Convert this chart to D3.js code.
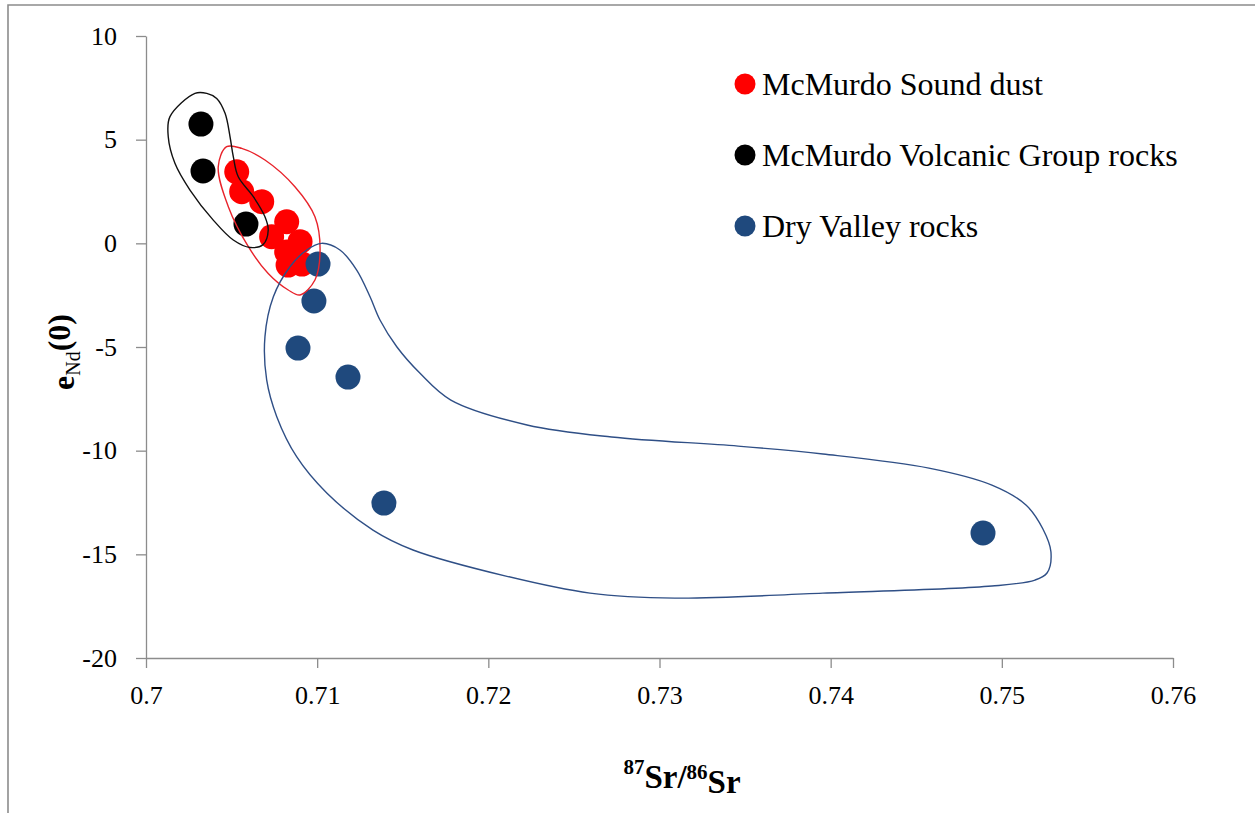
<!DOCTYPE html>
<html>
  <head>
    <meta charset="utf-8" />
    <title>Sr-Nd isotopes</title>
    <style>
      body {
        margin: 0;
        background: #fff;
      }
      svg text {
        font-family: 'Liberation Serif', serif;
        fill: #000;
      }
      .axis path,
      .axis line {
        stroke: #8c8c8c;
        stroke-width: 1.3px;
      }
      .outline {
        fill: none;
        stroke-width: 1.4px;
      }
    </style>
    <script src="https://d3js.org/d3.v7.min.js"></script>
  </head>
  <body>
    <svg width="1255" height="813"></svg>
    <script>
      // tick values
      var xTicks = [0.7, 0.71, 0.72, 0.73, 0.74, 0.75, 0.76]
      var yTicks = [-20, -15, -10, -5, 0, 5, 10]

      // McMurdo Sound dust
      var dustSr = [0.7053, 0.70559, 0.70676, 0.70822, 0.70734, 0.709, 0.70822, 0.7083, 0.70911]
      var dustNd = [3.45, 2.49, 2.01, 1.04, 0.32, 0.08, -0.42, -1.05, -1.0]

      // McMurdo Volcanic Group rocks
      var volcSr = [0.70321, 0.70333, 0.70584]
      var volcNd = [5.75, 3.49, 0.93]

      // Dry Valley rocks
      var dryvSr = [0.71005, 0.70981, 0.70888, 0.7118, 0.7139, 0.7489]
      var dryvNd = [-1.0, -2.78, -5.05, -6.45, -12.53, -13.97]

      // hand drawn outlines round each group, [Sr, Nd]
      var dustOutline = [
        [0.70471, 4.66], [0.70422, 3.69], [0.70481, 1.77], [0.70598, -0.16],
        [0.70714, -1.45], [0.70831, -2.25], [0.709, -2.49], [0.70987, -1.77],
        [0.71017, -0.32], [0.70987, 1.28], [0.7087, 2.73], [0.70695, 4.02],
        [0.70559, 4.58],
      ]
      var volcOutline = [
        [0.70286, 7.23], [0.7014, 6.11], [0.7013, 5.14], [0.70169, 3.86],
        [0.70257, 2.57], [0.70393, 1.12], [0.7051, 0.16], [0.70608, -0.2],
        [0.70685, -0.05], [0.70714, 0.64], [0.70695, 1.28], [0.70627, 2.25],
        [0.70539, 3.21], [0.7051, 4.18], [0.70491, 5.14], [0.70462, 6.27],
        [0.70413, 6.99], [0.70355, 7.23],
      ]
      var dryvOutline = [
        [0.71026, 0.0], [0.71133, -0.32], [0.71231, -1.29], [0.71309, -2.58],
        [0.71367, -3.7], [0.71465, -4.99], [0.71601, -6.27], [0.71781, -7.56],
        [0.72226, -8.76], [0.7272, -9.34], [0.73459, -9.78], [0.73955, -10.16],
        [0.74574, -10.84], [0.74942, -11.66], [0.75141, -12.62], [0.7524, -13.78],
        [0.75287, -14.89], [0.75264, -15.9], [0.75194, -16.24], [0.74942, -16.53],
        [0.73955, -16.87], [0.7309, -17.11], [0.72594, -16.87], [0.72103, -16.05],
        [0.7156, -14.79], [0.71326, -13.83], [0.71056, -12.04], [0.7088, -10.29],
        [0.70764, -8.36], [0.70705, -6.59], [0.70695, -4.5], [0.70744, -2.58],
        [0.70841, -1.13], [0.70939, -0.32],
      ]

      var series = [
        { name: 'McMurdo Sound dust', color: '#ff0000', line: '#e8232b', sr: dustSr, nd: dustNd, outline: dustOutline },
        { name: 'McMurdo Volcanic Group rocks', color: '#000000', line: '#111111', sr: volcSr, nd: volcNd, outline: volcOutline },
        { name: 'Dry Valley rocks', color: '#1f497d', line: '#2f4f86', sr: dryvSr, nd: dryvNd, outline: dryvOutline },
      ]

      var svg = d3.select('svg')

      // outer frame (only left and top edges are in view)
      svg.append('path')
        .attr('d', 'M8,813V5H1255')
        .attr('fill', 'none')
        .attr('stroke', '#8c8c8c')
        .attr('stroke-width', 1.6)

      var x = d3.scaleLinear().domain([0.7, 0.76]).range([146, 1173])
      var y = d3.scaleLinear().domain([-20, 10]).range([658, 36])

      // axes
      var xAxis = svg.append('g')
        .attr('class', 'axis')
        .attr('transform', 'translate(0,' + y(-20) + ')')
        .call(d3.axisBottom(x).tickValues(xTicks).tickSize(10).tickSizeOuter(0).tickPadding(18)
          .tickFormat(function (d) { return String(+d.toFixed(2)) }))
      xAxis.attr('font-family', 'Liberation Serif').attr('font-size', 26)

      var yAxis = svg.append('g')
        .attr('class', 'axis')
        .attr('transform', 'translate(' + x(0.7) + ',0)')
        .call(d3.axisLeft(y).tickValues(yTicks).tickSize(10).tickSizeOuter(0).tickPadding(19)
          .tickFormat(function (d) { return String(d) }))
      yAxis.attr('font-family', 'Liberation Serif').attr('font-size', 26)

      // points
      series.forEach(function (s) {
        svg.append('g')
          .selectAll('circle')
          .data(s.sr)
          .enter()
          .append('circle')
          .attr('cx', function (d) { return x(d) })
          .attr('cy', function (d, i) { return y(s.nd[i]) })
          .attr('r', 12.5)
          .attr('fill', s.color)
      })

      // outlines
      var outlineLine = d3.line()
        .x(function (d) { return x(d[0]) })
        .y(function (d) { return y(d[1]) })
        .curve(d3.curveCatmullRomClosed.alpha(0.5))

      svg.selectAll('.outline')
        .data(series)
        .enter()
        .append('path')
        .attr('class', 'outline')
        .attr('d', function (d) { return outlineLine(d.outline) })
        .attr('stroke', function (d) { return d.line })

      // legend
      var legend = svg.append('g')
        .selectAll('g')
        .data(series)
        .enter()
        .append('g')
        .attr('transform', function (d, i) { return 'translate(745,' + (84 + i * 71) + ')' })
      legend.append('circle').attr('r', 10.5).attr('fill', function (d) { return d.color })
      legend.append('text')
        .attr('x', 17)
        .attr('dy', '0.33em')
        .style('font-size', '32px')
        .text(function (d) { return d.name })

      // axis titles
      var xt = svg.append('text')
        .attr('x', 682)
        .attr('y', 783)
        .attr('text-anchor', 'middle')
        .style('font-size', '33px')
        .style('font-weight', 'bold')
      xt.append('tspan').attr('dy', '-0.42em').style('font-size', '21px').text('87')
      xt.append('tspan').attr('dy', '0.42em').text('Sr/')
      xt.append('tspan').attr('dy', '-0.42em').style('font-size', '21px').text('86')
      xt.append('tspan').attr('dy', '0.42em').text('Sr')

      var yt = svg.append('text')
        .attr('transform', 'translate(74,352) rotate(-90)')
        .attr('text-anchor', 'middle')
        .style('font-size', '32px')
        .style('font-weight', 'bold')
      yt.append('tspan').text('e')
      yt.append('tspan').attr('dy', '0.3em').style('font-size', '20px').style('font-weight', 'normal').text('Nd')
      yt.append('tspan').attr('dy', '-0.3em').text('(0)')
    </script>
  </body>
</html>
